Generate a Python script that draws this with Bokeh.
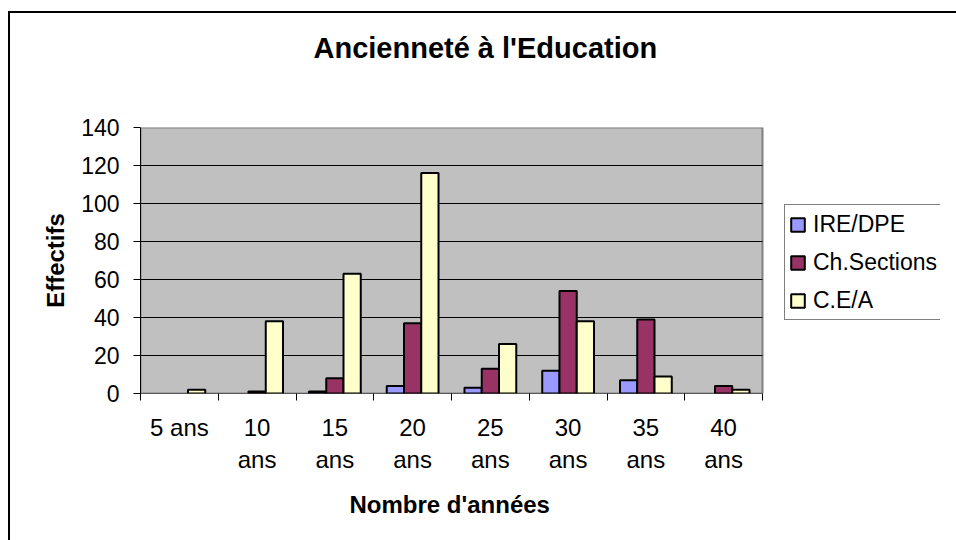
from bokeh.plotting import figure
from bokeh.models import ColumnDataSource, FixedTicker, Legend, LegendItem, Range1d, Title
from bokeh.transform import dodge
from bokeh.embed import file_html
from bokeh.resources import INLINE

# ---- data ----
categories = ["5 ans", "10 ans", "15 ans", "20 ans", "25 ans", "30 ans", "35 ans", "40 ans"]
tick_labels = ["5 ans", "10\nans", "15\nans", "20\nans", "25\nans", "30\nans", "35\nans", "40\nans"]
ire_dpe = [0, 0, 1, 4, 3, 12, 7, 0]
ch_sections = [0, 1, 8, 37, 13, 54, 39, 4]
cea = [2, 38, 63, 116, 26, 38, 9, 2]
series_names = ["IRE/DPE", "Ch.Sections", "C.E/A"]
series_values = [ire_dpe, ch_sections, cea]
series_colors = ["#9999FF", "#993366", "#FFFFCC"]
y_ticks = [0, 20, 40, 60, 80, 100, 120, 140]
x_title = "Nombre d'années"
y_title = "Effectifs"

FONT = "Liberation Sans"
n = len(categories)
centers = [i + 0.5 for i in range(n)]
boundaries = list(range(n + 1))

W, H = 940, 524
BL, BT, BB = 140, 127, 131          # borders around the frame (px)
PLOT_PX = 622                        # width of the grey plot area (px)
x_max = n * (W - BL) / PLOT_PX       # frame also holds the legend on the right

p = figure(
    width=W, height=H,
    x_range=Range1d(0, x_max), y_range=Range1d(y_ticks[0], y_ticks[-1]),
    output_backend="svg", toolbar_location=None,
    min_border_left=BL, min_border_right=0,
    min_border_top=BT, min_border_bottom=BB,
    title="Ancienneté à l'Education",
)
# chart-area border (left and top lines)
p.styles = {
    "background-color": "white",
    "box-shadow": ", ".join([
        "inset 0 11px 0 0 white", "inset 8px 0 0 0 white",
        "inset 0 13px 0 0 black", "inset 10px 0 0 0 black",
        "10px 16px 0 0 white", "-932px 16px 0 0 white",
        "16px 13px 0 0 white", "16px -513px 0 0 white",
        "0 16px 0 0 black", "16px 0 0 0 black",
    ]),
}

p.background_fill_color = "white"
p.border_fill_color = None
p.outline_line_color = None

# title (outermost) + spacer between title and plot area
p.title.text_font = FONT
p.title.text_font_size = "29px"
p.title.text_font_style = "bold"
p.title.text_color = "black"
p.title.align = "left"
p.title.offset = 173
p.title.standoff = 10
p.add_layout(Title(text=" ", text_font_size="1px", standoff=56), "above")

# plot area (grey) and gridlines
p.quad(left=[0], right=[n], bottom=[y_ticks[0]], top=[y_ticks[-1]],
       fill_color="#C0C0C0", line_color="#808080", line_width=2)
k = len(y_ticks) - 1
p.segment(x0=[0] * k, x1=[n] * k, y0=y_ticks[:-1], y1=y_ticks[:-1],
          line_color="black", line_width=1)

# bars
bar_w = 0.222
offsets = [-bar_w, 0.0, bar_w]
items = []
for name, vals, col, off in zip(series_names, series_values, series_colors, offsets):
    xs = [c for c, v in zip(centers, vals) if v > 0]
    tops = [v for v in vals if v > 0]
    src = ColumnDataSource(dict(x=xs, top=tops))
    r = p.vbar(x=dodge("x", off), top="top", width=bar_w, source=src,
               fill_color=col, line_color="black", line_width=2)
    items.append(LegendItem(label=name, renderers=[r]))

legend = Legend(items=items, location=(644, 73))
legend.border_line_color = "black"
legend.border_line_width = 1
legend.background_fill_color = "white"
legend.background_fill_alpha = 1
legend.label_text_font = FONT
legend.label_text_font_size = "23px"
legend.label_text_color = "black"
legend.glyph_width = 17
legend.glyph_height = 17
legend.label_height = 30
legend.label_width = 150
legend.spacing = 8
legend.padding = 4
legend.label_standoff = 7
legend.margin = 0
p.add_layout(legend)

# x axis
xa = p.xaxis[0]
xa.ticker = FixedTicker(ticks=centers, minor_ticks=boundaries)
xa.major_label_overrides = {c: lab for c, lab in zip(centers, tick_labels)}
xa.major_tick_out = 0
xa.major_tick_in = 0
xa.minor_tick_out = 7
xa.minor_tick_in = 0
xa.minor_tick_line_color = "black"
xa.axis_line_color = None
xa.major_label_text_font = FONT
xa.major_label_text_font_size = "24px"
xa.major_label_text_color = "black"
xa.major_label_standoff = 13

# x-axis title, centred under the grey plot area (spacer + title below the axis)
p.add_layout(Title(text=" ", text_font_size="1px", standoff=10), "below")
p.add_layout(Title(text=x_title, text_font=FONT, text_font_size="24px",
                   text_font_style="bold", text_color="black",
                   align="left", offset=209, standoff=0), "below")

# y axis
ya = p.yaxis[0]
ya.ticker = FixedTicker(ticks=y_ticks)
ya.major_tick_out = 7
ya.major_tick_in = 0
ya.major_tick_line_color = "black"
ya.minor_tick_line_color = None
ya.axis_line_color = "black"
ya.major_label_text_font = FONT
ya.major_label_text_font_size = "23px"
ya.major_label_text_color = "black"
ya.major_label_standoff = 14
ya.axis_label = y_title
ya.axis_label_text_font = FONT
ya.axis_label_text_font_size = "24px"
ya.axis_label_text_font_style = "bold"
ya.axis_label_text_color = "black"
ya.axis_label_standoff = 9

p.xgrid.visible = False
p.ygrid.visible = False

open("out.html", "w").write(file_html(p, INLINE))
